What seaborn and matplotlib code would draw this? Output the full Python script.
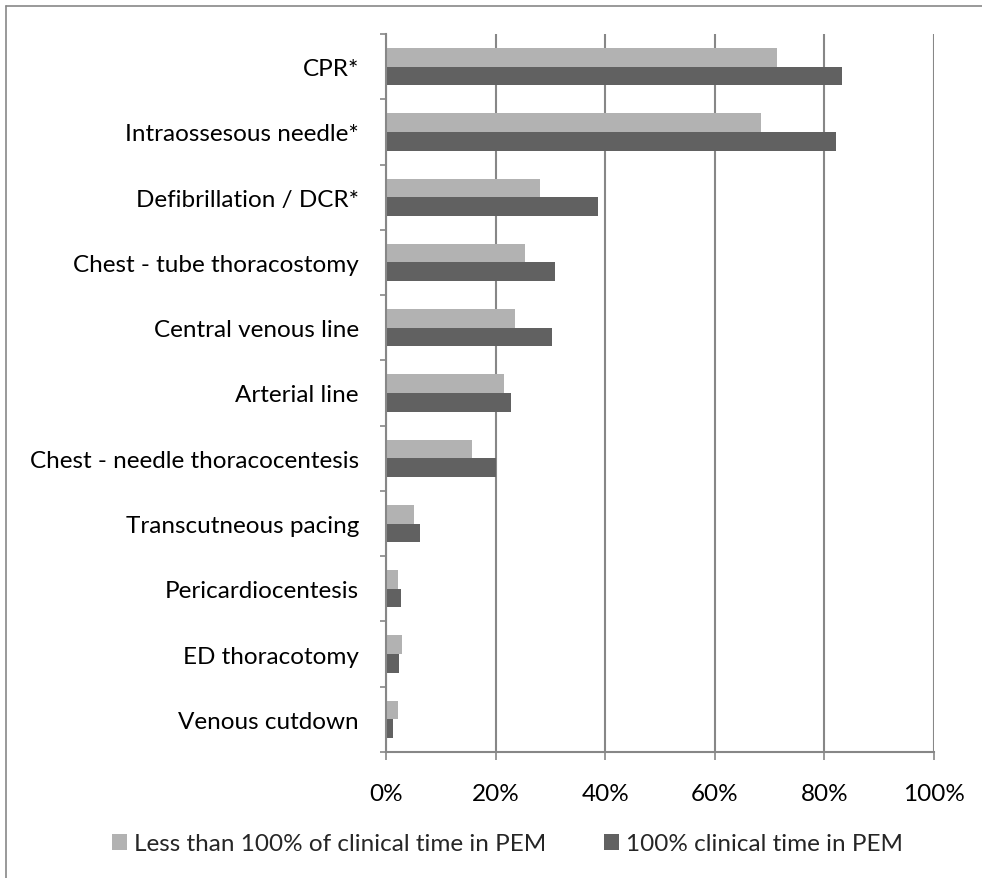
import numpy as np
import pandas as pd
import matplotlib
matplotlib.use("Agg")
import matplotlib.pyplot as plt
from matplotlib.patches import Patch
from matplotlib.lines import Line2D
import seaborn as sns

procedures = [
    "CPR*",
    "Intraossesous needle*",
    "Defibrillation / DCR*",
    "Chest - tube thoracostomy",
    "Central venous line",
    "Arterial line",
    "Chest - needle thoracocentesis",
    "Transcutneous pacing",
    "Pericardiocentesis",
    "ED thoracotomy",
    "Venous cutdown",
]
less_than_full = [71.3, 68.5, 28.1, 25.3, 23.5, 21.6, 15.7, 5.2, 2.1, 3.0, 2.1]
full_time = [83.3, 82.2, 38.7, 30.9, 30.3, 22.8, 20.1, 6.2, 2.7, 2.4, 1.3]
series_names = ["Less than 100% of clinical time in PEM", "100% clinical time in PEM"]
x_ticks = [0, 20, 40, 60, 80, 100]
x_tick_labels = ["0%", "20%", "40%", "60%", "80%", "100%"]

light = "#b2b2b2"
dark = "#616161"
grid_gray = "#878787"
font_size = 17.5

df = pd.DataFrame({
    "procedure": procedures * 2,
    "share": less_than_full + full_time,
    "group": [series_names[0]] * len(procedures) + [series_names[1]] * len(procedures),
})

sns.set_theme(style="white")
plt.rcParams["font.family"] = ["Lato", "DejaVu Sans"]

fig = plt.figure(figsize=(9.82, 8.79), dpi=100)
ax = fig.add_axes([386 / 982, 1 - 753 / 879, 548 / 982, (753 - 35) / 879])

sns.barplot(
    data=df, y="procedure", x="share", hue="group",
    order=procedures, hue_order=series_names,
    palette=[light, dark], orient="h", width=0.57, gap=0,
    edgecolor="none", linewidth=0, legend=False, ax=ax,
)

ax.set_xlim(0, 100)
ax.set_ylim(len(procedures) - 0.5, -0.5)
ax.set_xticks(x_ticks)
ax.set_xticklabels(x_tick_labels)
ax.set_xlabel("")
ax.set_ylabel("")

ax.set_axisbelow(True)
ax.xaxis.grid(True, color=grid_gray, linewidth=1.5)
ax.yaxis.grid(False)

for side in ["top", "right"]:
    ax.spines[side].set_visible(False)
for side in ["left", "bottom"]:
    ax.spines[side].set_color(grid_gray)
    ax.spines[side].set_linewidth(1.5)

ax.set_yticks(np.arange(-0.5, len(procedures), 1.0), minor=True)
ax.tick_params(axis="y", which="major", length=0, pad=19.5, labelsize=font_size, labelcolor="#000000")
ax.tick_params(axis="y", which="minor", left=True, length=4.5, width=1.2, color=grid_gray)
ax.tick_params(axis="x", which="major", bottom=True, length=5.5, width=1.2, color=grid_gray,
               pad=17, labelsize=font_size, labelcolor="#000000")

handles = [Patch(facecolor=light, edgecolor="none"), Patch(facecolor=dark, edgecolor="none")]
fig.legend(
    handles, series_names, loc="center", bbox_to_anchor=(507.5 / 982, 1 - 845 / 879),
    ncol=2, frameon=False, fontsize=font_size, handlelength=0.62, handleheight=0.62,
    handletextpad=0.28, columnspacing=2.4,
)

# outer chart frame (left and top edges)
fig.add_artist(Line2D([5.5 / 982, 5.5 / 982], [0, 1 - 6.5 / 879], transform=fig.transFigure,
                      color=grid_gray, linewidth=1.2))
fig.add_artist(Line2D([5.5 / 982, 1], [1 - 6.5 / 879, 1 - 6.5 / 879], transform=fig.transFigure,
                      color=grid_gray, linewidth=1.2))

fig.savefig("out.png", dpi=100, facecolor="white")
